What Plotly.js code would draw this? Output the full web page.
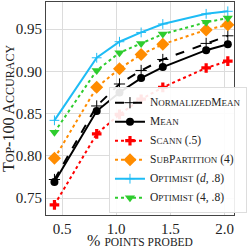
<!DOCTYPE html>
<html><head><meta charset="utf-8">
<script src="https://cdn.plot.ly/plotly-3.0.1.min.js"></script>
<style>html,body{margin:0;padding:0;background:#fff}#c{width:249px;height:249px}</style>
</head><body><div id="c"></div>
<script>
const probed = [0.43, 0.82, 1.03, 1.23, 1.43, 1.83, 2.03];
const normalizedMean = [0.772, 0.859, 0.885, 0.901, 0.914, 0.933, 0.942];
const mean = [0.769, 0.853, 0.875, 0.892, 0.905, 0.925, 0.932];
const scann = [0.742, 0.826, 0.849, 0.867, 0.881, 0.904, 0.912];
const subPartition = [0.797, 0.881, 0.903, 0.920, 0.932, 0.949, 0.955];
const optimistD = [0.842, 0.916, 0.935, 0.946, 0.956, 0.968, 0.971];
const optimist4 = [0.828, 0.901, 0.922, 0.933, 0.944, 0.958, 0.963];
const sc = s => '<span style="font-size:9px">' + s + '</span>';
const big = s => '<span style="font-size:11.5px">' + s + '</span>';
const names = [
  big('N') + sc('ORMALIZED') + big('M') + sc('EAN'),
  big('M') + sc('EAN'),
  big('S') + sc('CANN') + big(' (.5)'),
  big('S') + sc('UB') + big('P') + sc('ARTITION') + big(' (4)'),
  big('O') + sc('PTIMIST') + big(' (<i>d</i>, .8)'),
  big('O') + sc('PTIMIST') + big(' (4, .8)')
];
const F = 'Liberation Serif, DejaVu Serif, serif';
const traces = [
  {y: normalizedMean, name: names[0], line: {color: '#000', dash: 'dash', width: 2}, marker: {symbol: 'cross-thin', size: 8, line: {color: '#000', width: 1}}},
  {y: mean, name: names[1], line: {color: '#000', width: 2}, marker: {symbol: 'circle', size: 8, color: '#000'}},
  {y: scann, name: names[2], line: {color: '#ff0000', dash: 'dot', width: 2}, marker: {symbol: 'cross', size: 8, color: '#ff0000'}},
  {y: subPartition, name: names[3], line: {color: '#ff8c00', dash: 'dot', width: 2}, marker: {symbol: 'diamond', size: 10, color: '#ff8c00'}},
  {y: optimistD, name: names[4], line: {color: '#1ebcf5', width: 2}, marker: {symbol: 'cross-thin', size: 7, line: {color: '#1ebcf5', width: 1}}},
  {y: optimist4, name: names[5], line: {color: '#2ecc2e', dash: 'dot', width: 2}, marker: {symbol: 'triangle-down', size: 9, color: '#2ecc2e'}}
].map(t => Object.assign({x: probed, type: 'scatter', mode: 'lines+markers'}, t));
const layout = {
  width: 249, height: 249,
  margin: {l: 46, r: 4, t: 2, b: 34},
  paper_bgcolor: '#fff', plot_bgcolor: '#fff',
  font: {family: F, size: 13, color: '#222'},
  showlegend: true,
  legend: {x: 0.335, y: 0.60, xanchor: 'left', yanchor: 'top', bgcolor: 'rgba(255,255,255,0.9)', bordercolor: '#ddd', borderwidth: 1, font: {family: F, size: 8.8, color: '#222'}, tracegroupgap: 0, itemwidth: 30},
  xaxis: {range: [0.352, 2.087], tickvals: [0.5, 1.0, 1.5, 2.0], ticktext: ['0.5', '1.0', '1.5', '2.0'], showgrid: true, gridcolor: '#dcdcdc', gridwidth: 1, zeroline: false, showline: true, linecolor: '#444', linewidth: 1, mirror: true, ticks: '', tickfont: {family: F, size: 15}, title: {text: '% ' + '<span style="font-size:11.5px">POINTS PROBED</span>', font: {family: F, size: 16}, standoff: 2}},
  yaxis: {range: [0.73, 0.982], tickvals: [0.75, 0.80, 0.85, 0.90, 0.95], ticktext: ['0.75', '0.80', '0.85', '0.90', '0.95'], showgrid: true, gridcolor: '#dcdcdc', gridwidth: 1, zeroline: false, showline: true, linecolor: '#444', linewidth: 1, mirror: true, ticks: '', tickfont: {family: F, size: 15}, title: {text: 'T<span style="font-size:12px">OP</span>-100 A<span style="font-size:12px">CCURACY</span>', font: {family: F, size: 16}, standoff: 2}}
};
Plotly.newPlot('c', traces, layout, {displayModeBar: false, staticPlot: true});
</script></body></html>
